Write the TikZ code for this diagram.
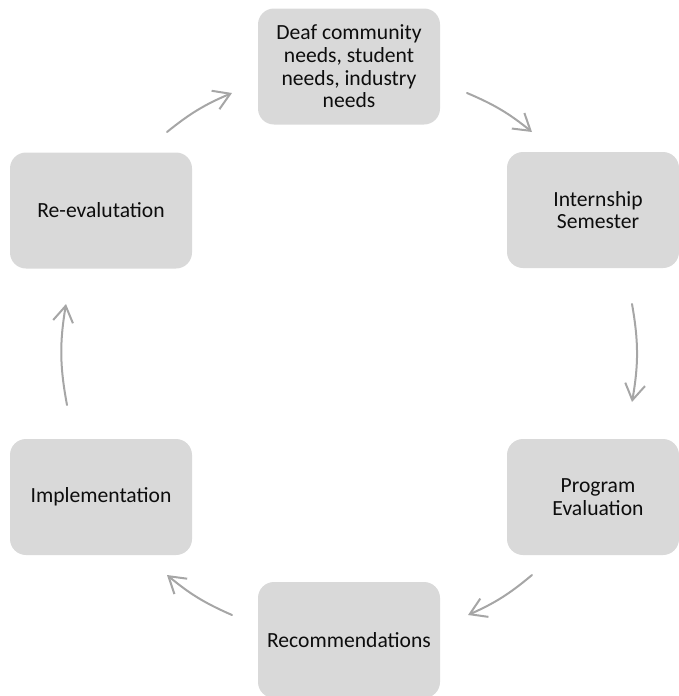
\documentclass[tikz,border=0pt]{standalone}
\usepackage{fontspec}
\setmainfont{Carlito}
\usetikzlibrary{arrows.meta}
\definecolor{boxgray}{HTML}{D9D9D9}
\definecolor{arrowgray}{HTML}{A6A6A6}
\definecolor{txt}{HTML}{0D0D0D}
\begin{document}
\begin{tikzpicture}[x=1pt,y=-1pt,
  box/.style={fill=boxgray, draw=none, rounded corners=16pt, minimum width=182pt, minimum height=116pt,
    inner sep=0pt, align=center, text=txt, font=\fontsize{21.6}{22.7}\selectfont},
  lbl/.style={align=center, text=txt, font=\fontsize{21.6}{22.7}\selectfont, inner sep=0pt},
  arr/.style={draw=arrowgray, line width=2pt, line cap=round,
    -{Straight Barb[length=16pt,width=20pt,line width=2pt]}}]
\useasboundingbox (0,0) rectangle (679,696);
\node[box] (needs) at (349,66.5) {Deaf community\\needs, student\\needs, industry\\needs};
\node[box, minimum width=172pt, label={[lbl,xshift=5pt]center:Internship\\Semester}] (intern) at (593,210) {};
\node[box, minimum width=172pt, label={[lbl,xshift=5pt]center:Program\\Evaluation}] (progeval) at (593,497) {};
\node[box] (recomm) at (349,640) {Recommendations};
\node[box] (impl) at (101,497) {Implementation};
\node[box] (reeval) at (101,210.5) {Re-evalutation};
\coordinate (a1s) at (167,132); \coordinate (a1e) at (232,93);
\coordinate (a2s) at (467,93);  \coordinate (a2e) at (532,132);
\coordinate (a3s) at (632,304); \coordinate (a3e) at (632,402);
\coordinate (a4s) at (532,575); \coordinate (a4e) at (468,615);
\coordinate (a5s) at (232,615); \coordinate (a5e) at (167,575);
\coordinate (a6s) at (67,405);  \coordinate (a6e) at (66,304);
\draw[arr] (a1s) to[bend left=8] (a1e);
\draw[arr] (a2s) to[bend left=8] (a2e);
\draw[arr] (a3s) to[bend left=10] (a3e);
\draw[arr] (a4s) to[bend left=8] (a4e);
\draw[arr] (a5s) to[bend left=8] (a5e);
\draw[arr] (a6s) to[bend left=10] (a6e);
\end{tikzpicture}
\end{document}
